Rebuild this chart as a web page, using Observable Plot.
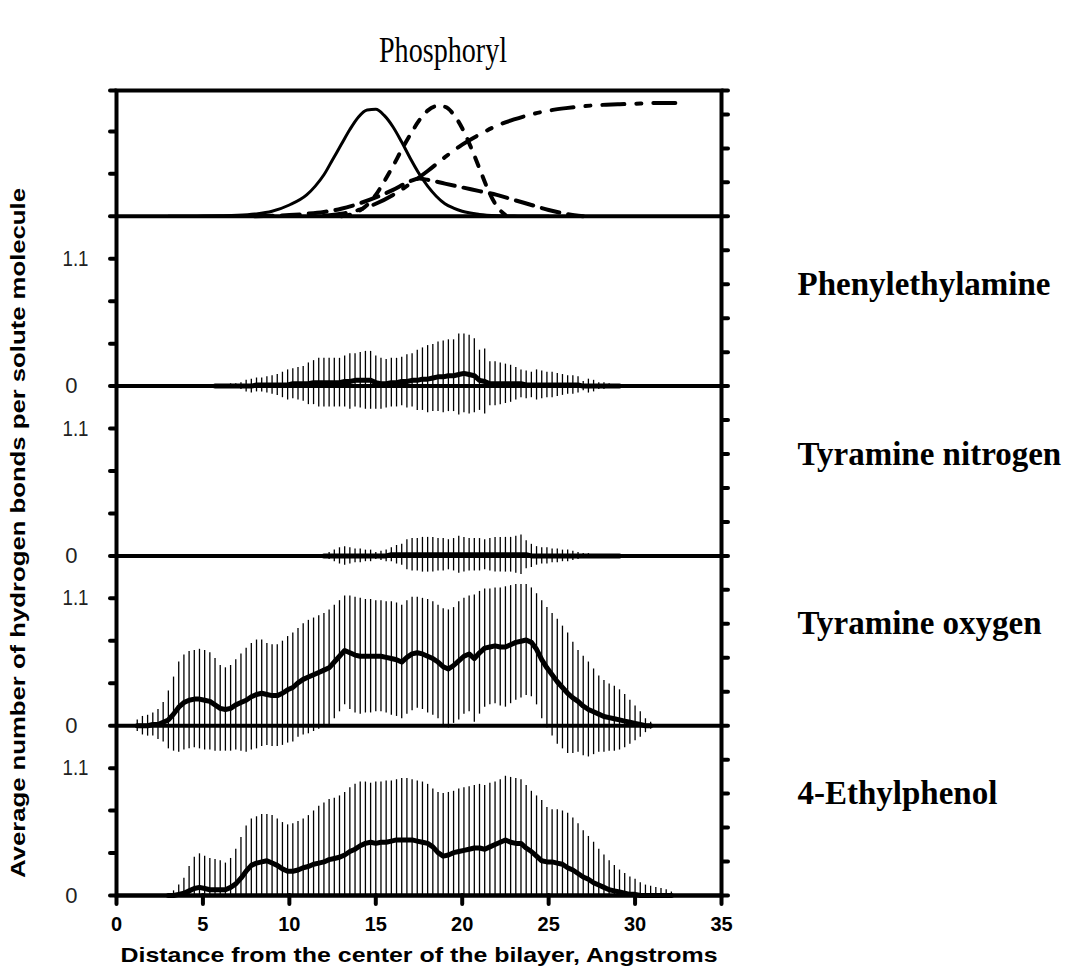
<!DOCTYPE html>
<html><head><meta charset="utf-8">
<script src="https://cdn.jsdelivr.net/npm/d3@7"></script>
<script src="https://cdn.jsdelivr.net/npm/@observablehq/plot@0.6"></script>
<style>
html,body{margin:0;padding:0;background:#fff;}
#chart{width:1080px;height:974px;}
</style></head><body><div id="chart"></div>
<script>
// ---------- data ----------
const title = "Phosphoryl";
const xLabel = "Distance from the center of the bilayer, Angstroms";
const yLabel = "Average number of hydrogen bonds per solute molecule";
const panelNames = ["Phenylethylamine", "Tyramine nitrogen", "Tyramine oxygen", "4-Ethylphenol"];
const xTicks = [0, 5, 10, 15, 20, 25, 30, 35];
const STEP = 0.3; // spacing of the sampled distances (Angstrom)

// Phenylethylamine (mean and upper end of error bar)
const pheStart = 5.7;
const pheMean = [0,0,0,0,0,0,0,0,0.01,0.01, 0.01,0.01,0.01,0.01,0.01,0.02,0.02,0.02,0.02,0.03,
  0.03,0.03,0.03,0.03,0.03,0.04,0.04,0.05,0.05,0.05, 0.05,0.03,0.02,0.02,0.03,0.03,0.04,0.04,0.05,0.05,
  0.06,0.06,0.07,0.08,0.08,0.09,0.09,0.10,0.11,0.10, 0.09,0.05,0.04,0.02,0.02,0.02,0.02,0.02,0.02,0.02,
  0.01,0.01,0.01,0.01,0.01,0.01,0.01,0.01,0.01,0.01, 0.01,0,0,0,0,0,0,0,0];
const pheHi = [0.01,0.01,0.01,0.02,0.02,0.03,0.05,0.06,0.07,0.07, 0.08,0.09,0.10,0.12,0.14,0.15,0.16,0.17,0.20,0.22,
  0.24,0.24,0.24,0.24,0.24,0.26,0.28,0.28,0.29,0.30, 0.30,0.26,0.24,0.23,0.24,0.24,0.25,0.27,0.28,0.31,
  0.33,0.35,0.36,0.38,0.39,0.40,0.40,0.45,0.45,0.44, 0.41,0.31,0.32,0.21,0.21,0.20,0.19,0.18,0.16,0.14,
  0.13,0.12,0.14,0.13,0.12,0.12,0.11,0.10,0.09,0.09, 0.08,0.04,0.06,0.05,0.03,0.03,0.02,0.01,0.01];

// Tyramine nitrogen
const tynStart = 12.0;
const tynMean = [0,0,0,0,0,0,0,0,0,0, 0,0,0,0.01,0.01,0.01,0.01,0.01,0.01,0.01,
  0.01,0.01,0.01,0.01,0.01,0.01,0.01,0.01,0.01,0.01, 0.01,0.01,0.01,0.01,0.01,0.01,0.01,0.01,0.01,0.01,
  0,0,0,0,0,0,0,0,0,0, 0,0,0,0,0,0,0,0];
const tynHi = [0.01,0.03,0.05,0.07,0.08,0.07,0.06,0.06,0.05,0.05, 0.03,0.04,0.05,0.07,0.09,0.10,0.14,0.15,0.15,0.16,
  0.16,0.16,0.15,0.15,0.14,0.15,0.17,0.16,0.15,0.15, 0.15,0.14,0.15,0.16,0.16,0.16,0.16,0.17,0.18,0.13,
  0.10,0.08,0.07,0.07,0.06,0.06,0.05,0.05,0.04,0.03, 0.02,0.02,0.01,0.01,0.01,0.01,0.01,0.005];

// Tyramine oxygen
const tyoStart = 1.2;
const tyoMean = [0,0,0,0.01,0.01,0.03,0.05,0.10,0.16,0.20, 0.22,0.23,0.23,0.22,0.21,0.18,0.15,0.14,0.15,0.18,
  0.20,0.22,0.25,0.27,0.28,0.27,0.26,0.26,0.28,0.31, 0.33,0.37,0.40,0.42,0.44,0.46,0.48,0.50,0.55,0.60,
  0.65,0.63,0.61,0.60,0.60,0.60,0.60,0.60,0.59,0.58, 0.57,0.55,0.59,0.62,0.63,0.62,0.60,0.58,0.55,0.51,
  0.49,0.52,0.56,0.60,0.62,0.58,0.63,0.67,0.68,0.69, 0.68,0.68,0.70,0.72,0.73,0.74,0.72,0.66,0.57,0.50,
  0.44,0.38,0.33,0.28,0.24,0.21,0.17,0.14,0.12,0.10, 0.08,0.07,0.06,0.05,0.04,0.03,0.02,0.01,0,0];
const tyoHi = [0.05,0.08,0.09,0.11,0.14,0.20,0.30,0.42,0.55,0.61, 0.64,0.65,0.66,0.65,0.63,0.58,0.52,0.50,0.52,0.57,
  0.62,0.67,0.71,0.74,0.74,0.71,0.70,0.70,0.73,0.77, 0.80,0.84,0.88,0.91,0.93,0.95,0.97,1.00,1.04,1.08,
  1.12,1.12,1.11,1.10,1.09,1.09,1.08,1.08,1.07,1.07, 1.06,1.04,1.08,1.11,1.11,1.10,1.09,1.07,1.04,1.01,
  1.00,1.02,1.07,1.10,1.12,1.13,1.16,1.18,1.18,1.19, 1.19,1.20,1.21,1.22,1.22,1.22,1.19,1.14,1.08,1.02,
  0.97,0.92,0.86,0.80,0.72,0.65,0.60,0.55,0.49,0.43, 0.39,0.36,0.34,0.31,0.27,0.22,0.17,0.12,0.06,0.03];

// 4-Ethylphenol
const etpStart = 3.0;
const etpMean = [0,0,0.01,0.02,0.04,0.06,0.07,0.06,0.05,0.05, 0.05,0.05,0.07,0.10,0.15,0.21,0.26,0.28,0.29,0.30,
  0.28,0.26,0.23,0.21,0.21,0.22,0.24,0.25,0.27,0.28, 0.29,0.31,0.32,0.33,0.35,0.38,0.40,0.43,0.45,0.46,
  0.45,0.46,0.46,0.47,0.48,0.48,0.48,0.48,0.47,0.46, 0.45,0.42,0.37,0.34,0.35,0.37,0.38,0.39,0.40,0.41,
  0.41,0.40,0.42,0.44,0.46,0.48,0.46,0.45,0.45,0.41, 0.38,0.34,0.30,0.29,0.29,0.28,0.27,0.24,0.22,0.19,
  0.16,0.14,0.11,0.09,0.07,0.05,0.04,0.03,0.02,0.01, 0.01,0,0,0,0,0,0,0];
const etpHi = [0.01,0.04,0.09,0.15,0.25,0.33,0.36,0.34,0.32,0.31, 0.30,0.28,0.32,0.40,0.50,0.60,0.66,0.68,0.70,0.70,
  0.69,0.66,0.63,0.61,0.62,0.64,0.66,0.69,0.73,0.77, 0.80,0.83,0.84,0.86,0.89,0.93,0.96,0.98,0.98,0.97,
  0.98,0.98,0.99,0.99,1.00,1.01,1.01,1.00,0.99,0.98, 0.96,0.92,0.89,0.88,0.89,0.90,0.92,0.93,0.94,0.95,
  0.96,0.95,0.97,0.98,1.00,1.03,1.02,1.01,1.00,0.95, 0.90,0.86,0.82,0.76,0.74,0.74,0.73,0.71,0.67,0.62,
  0.56,0.51,0.46,0.40,0.35,0.30,0.26,0.22,0.19,0.16, 0.14,0.11,0.09,0.08,0.07,0.06,0.05,0.03];

// Top panel: group density profiles (fraction of panel height)
const solidX = [3,4,5,6,7,8,9,10,11,11.5,12,12.5,13,13.5,14,14.5,15,15.5,16,16.5,17,17.5,18,18.5,19,19.5,20,21,22,23,24,25];
const solidF = [0,0,0.002,0.004,0.008,0.018,0.04,0.09,0.17,0.24,0.33,0.45,0.57,0.69,0.79,0.845,0.85,0.80,0.71,0.59,0.46,0.34,0.24,0.16,0.10,0.065,0.04,0.015,0.005,0.002,0,0];
const dotX = [13,14,14.5,15,15.5,16,16.5,17,17.5,18,18.5,19,19.5,20,20.5,21,21.5,22,22.5];
const dotF = [0,0.04,0.09,0.17,0.28,0.40,0.53,0.65,0.76,0.84,0.875,0.87,0.81,0.70,0.55,0.38,0.21,0.08,0.01];
const dashX = [8,9,10,11,12,13,14,15,16,17,17.5,18,19,20,21,22,23,24,25,26,27];
const dashF = [0,0.005,0.01,0.02,0.035,0.06,0.10,0.15,0.21,0.28,0.30,0.29,0.26,0.23,0.20,0.17,0.13,0.09,0.05,0.02,0];
const dashDotX = [12,13,14,15,16,17,18,19,20,21,22,23,24,25,26,27,28,29,30,31,32,33];
const dashDotF = [0.005,0.02,0.05,0.10,0.17,0.26,0.36,0.47,0.57,0.65,0.72,0.77,0.81,0.84,0.86,0.875,0.885,0.89,0.895,0.90,0.90,0.90];

// ---------- layout in value units ----------
const LABEL_VAL = 1.1;
const PANEL = LABEL_VAL / 0.75;        // one data panel spans 0 .. 1.467
const TOP_SPAN = PANEL * 0.741;        // top (profile) panel is shorter
const nP = panelNames.length;
const baseTop = nP * PANEL;
const yTop = baseTop + TOP_SPAN;
const bases = panelNames.map((_, i) => (nP - 1 - i) * PANEL);

const series = [
  {start: pheStart, mean: pheMean, hi: pheHi, clip: false},
  {start: tynStart, mean: tynMean, hi: tynHi, clip: false},
  {start: tyoStart, mean: tyoMean, hi: tyoHi, clip: false},
  {start: etpStart, mean: etpMean, hi: etpHi, clip: true}
];
const bars = [], means = [];
series.forEach((s, i) => {
  const b = bases[i];
  s.mean.forEach((m, j) => {
    const x = +(s.start + j * STEP).toFixed(2);
    let lo = 2 * m - s.hi[j];
    if (s.clip) lo = Math.max(0, lo);
    bars.push({x, y1: b + lo, y2: b + s.hi[j]});
    means.push({panel: panelNames[i], x, y: b + m});
  });
});
const prof = (xs, fs) => xs.map((x, i) => ({x, y: baseTop + fs[i] * TOP_SPAN}));

// ticks
const leftTicks = [], rightTicks = [];
bases.forEach(b => {
  for (let k = 0; k <= 3; k++) leftTicks.push(b + k * LABEL_VAL / 3);
  for (let k = 0; k <= 4; k++) rightTicks.push(b + k * PANEL / 5);
});
for (let k = 0; k <= 2; k++) leftTicks.push(baseTop + k * LABEL_VAL / 3);
for (let k = 0; k <= 3; k++) rightTicks.push(baseTop + k * PANEL / 5);
leftTicks.push(yTop); rightTicks.push(yTop);
const hiLabels = bases.map(b => ({y: b + LABEL_VAL, t: "1.1"}));
const zeroLabels = bases.map(b => ({y: b, t: "0"}));
const nameLabels = panelNames.map((n, i) => ({y: bases[i] + 0.88, t: n}));
const baselines = bases.concat([baseTop]);

const SANS = "Liberation Sans, Arial, sans-serif";
const SERIF = "Liberation Serif, Times New Roman, serif";

const chart = Plot.plot({
  width: 1080, height: 974,
  marginLeft: 116, marginRight: 359, marginTop: 90, marginBottom: 79,
  style: {background: "white", overflow: "visible", fontFamily: SANS, color: "black"},
  x: {domain: [0, 35], axis: null},
  y: {domain: [0, yTop], axis: null},
  marks: [
    Plot.ruleX(bars, {x: "x", y1: "y1", y2: "y2", stroke: "black", strokeWidth: 1.3}),
    Plot.ruleY(baselines, {stroke: "black", strokeWidth: 4}),
    Plot.frame({stroke: "black", strokeWidth: 4}),
    Plot.line(means, {x: "x", y: "y", z: "panel", stroke: "black", strokeWidth: 5, strokeLinejoin: "round"}),
    Plot.line(prof(solidX, solidF), {x: "x", y: "y", stroke: "black", strokeWidth: 3, curve: "monotone-x"}),
    Plot.line(prof(dashX, dashF), {x: "x", y: "y", stroke: "black", strokeWidth: 4, strokeDasharray: "18,9", curve: "monotone-x"}),
    Plot.line(prof(dashDotX, dashDotF), {x: "x", y: "y", stroke: "black", strokeWidth: 4, strokeDasharray: "22,12,5,12", curve: "monotone-x"}),
    Plot.line(prof(dotX, dotF), {x: "x", y: "y", stroke: "black", strokeWidth: 4, strokeDasharray: "9,11", curve: "monotone-x"}),
    Plot.axisY({anchor: "left", ticks: leftTicks, tickFormat: () => "", tickSize: 6, strokeWidth: 4, strokeLinecap: "round"}),
    Plot.axisY({anchor: "right", ticks: rightTicks, tickFormat: () => "", tickSize: 6, strokeWidth: 4, strokeLinecap: "round"}),
    Plot.axisX({anchor: "bottom", ticks: xTicks, tickFormat: d => String(d), tickSize: 9, tickPadding: 12,
      strokeWidth: 4, strokeLinecap: "round", fontSize: 20, fontWeight: "bold", fontFamily: SANS, label: null}),
    Plot.text(hiLabels, {y: "y", text: "t", frameAnchor: "left", dx: -28, textAnchor: "end", fontSize: 22, fontFamily: SANS, fill: "#222", className: "lbl-hi"}),
    Plot.text(zeroLabels, {y: "y", text: "t", frameAnchor: "left", dx: -39, textAnchor: "end", fontSize: 22, fontFamily: SANS, fill: "#222"}),
    Plot.text(nameLabels, {y: "y", text: "t", frameAnchor: "right", dx: 76, textAnchor: "start", fontSize: 33, fontWeight: "bold", fontFamily: SERIF}),
    Plot.text([title], {frameAnchor: "top", dx: 24, dy: -40, textAnchor: "middle", lineAnchor: "middle", fontSize: 36, fontFamily: SERIF, className: "lbl-t"}),
    Plot.text([xLabel], {frameAnchor: "bottom", dy: 60, textAnchor: "middle", lineAnchor: "middle", fontSize: 21, fontWeight: "bold", fontFamily: SANS, className: "lbl-x"}),
    Plot.text([yLabel], {frameAnchor: "left", dx: -98, dy: 40, rotate: -90, textAnchor: "middle", lineAnchor: "middle", fontSize: 21, fontWeight: "bold", fontFamily: SANS, className: "lbl-y"})
  ]
});
// fit texts to the extents seen in the original (narrow, elongated lettering)
const svg = d3.select(chart);
svg.selectAll(".lbl-x text").attr("textLength", 597).attr("lengthAdjust", "spacingAndGlyphs");
svg.selectAll(".lbl-y text").attr("textLength", 690).attr("lengthAdjust", "spacingAndGlyphs");
svg.selectAll(".lbl-hi text").attr("textLength", 26).attr("lengthAdjust", "spacingAndGlyphs");
svg.selectAll(".lbl-t text").attr("textLength", 128).attr("lengthAdjust", "spacingAndGlyphs");
document.getElementById("chart").appendChild(chart);
</script></body></html>
